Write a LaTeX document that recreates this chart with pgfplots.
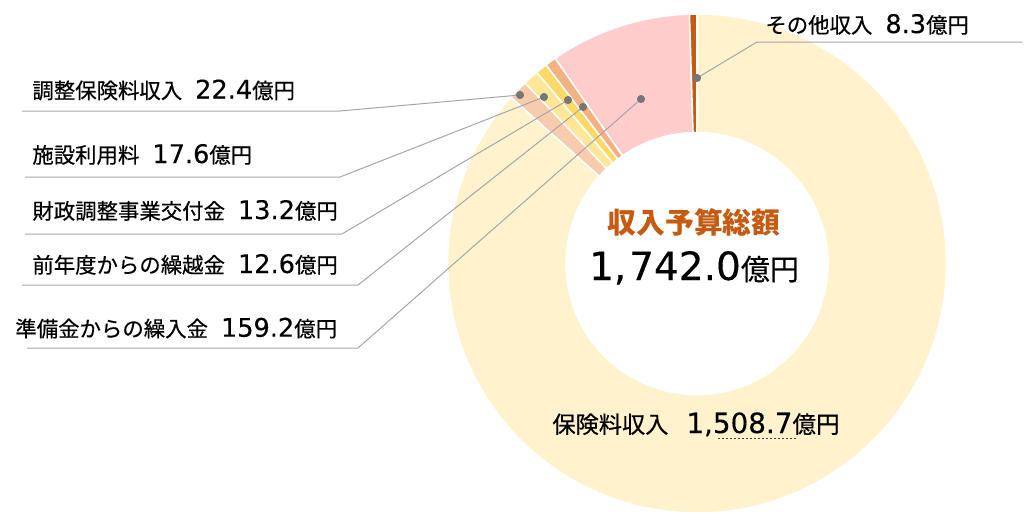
\documentclass[border=0pt]{standalone}
\usepackage{pgfplots}
\pgfplotsset{compat=1.18}
\usepackage{pgfplotstable}
\usepackage{fontspec}
\setmainfont{DejaVu Sans}[FakeBold=0.25]
\newfontfamily\jp{Noto Sans CJK JP}[FakeBold=0.45]
\newfontfamily\jpt{Noto Sans CJK JP}

\definecolor{c0}{HTML}{FFF2CC}
\definecolor{c1}{HTML}{F8CBAD}
\definecolor{c2}{HTML}{FFE699}
\definecolor{c3}{HTML}{FFD966}
\definecolor{c4}{HTML}{F4B183}
\definecolor{c5}{HTML}{FFCCCC}
\definecolor{c6}{HTML}{C55A11}
\definecolor{leader}{HTML}{A6A6A6}
\definecolor{dotc}{HTML}{767676}
\definecolor{titlec}{HTML}{C55A11}

% clockwise from 12 o'clock
\pgfplotstableread{
idx value
0 1508.7
1 22.4
2 17.6
3 13.2
4 12.6
5 159.2
6 8.3
}\piedata

\newcommand\lab[2]{{\jp\fontsize{10.7pt}{12pt}\selectfont #1}\hspace{6.5pt}{\fontsize{12.8pt}{13pt}\selectfont #2}{\jp\fontsize{10.7pt}{12pt}\selectfont 億円}}

\begin{document}
\begin{tikzpicture}
\def\total{0}
\pgfplotsforeachungrouped \i in {0,...,6}{%
  \pgfplotstablegetelem{\i}{value}\of\piedata
  \pgfmathsetmacro\total{\total+\pgfplotsretval}%
}
\begin{axis}[
  hide axis, scale only axis,
  width=512pt, height=257.5pt,
  xmin=0, xmax=1024, ymin=0, ymax=515,
  y dir=reverse, clip=false,
]
\def\cur{90}
\pgfplotsforeachungrouped \i in {0,...,6}{%
  \pgfplotstablegetelem{\i}{value}\of\piedata
  \pgfmathsetmacro\nxt{\cur-(\pgfplotsretval/\total)*360}%
  \edef\temp{\noexpand\fill[c\i, draw=white, line width=0.75pt] (axis cs:697,263.5) ++(\cur:124.75pt) arc[start angle=\cur, end angle=\nxt, radius=124.75pt] -- ++(\nxt:-59.25pt) arc[start angle=\nxt, end angle=\cur, radius=65.5pt] -- cycle;}%
  \temp
  \global\let\cur\nxt
}

% leader lines
\addplot[leader, line width=0.5pt, no marks] coordinates {(22,111) (340,111) (520,95)};
\addplot[leader, line width=0.5pt, no marks] coordinates {(25,177) (340,177) (544,97)};
\addplot[leader, line width=0.5pt, no marks] coordinates {(25,234) (342,234) (568,100)};
\addplot[leader, line width=0.5pt, no marks] coordinates {(22,285) (358,285) (583,107)};
\addplot[leader, line width=0.5pt, no marks] coordinates {(27,348) (358,348) (641,99)};
\addplot[leader, line width=0.5pt, no marks] coordinates {(697,78) (757,42) (1022,42)};
\addplot[only marks, mark=*, mark size=1.8pt, draw=dotc, fill=dotc] coordinates {(520,95) (544,97) (568,100) (583,107) (641,99) (697,78)};

% dashed underline
\addplot[black!75, line width=0.5pt, dash pattern=on 1pt off 1pt, no marks] coordinates {(718,438) (798,438)};

% labels
\node[anchor=base west, inner sep=0pt] at (axis cs:32,98.5) {\lab{調整保険料収入}{22.4}};
\node[anchor=base west, inner sep=0pt] at (axis cs:32,163) {\lab{施設利用料}{17.6}};
\node[anchor=base west, inner sep=0pt] at (axis cs:32,219) {\lab{財政調整事業交付金}{13.2}};
\node[anchor=base west, inner sep=0pt] at (axis cs:32,273) {\lab{前年度からの繰越金}{12.6}};
\node[anchor=base west, inner sep=0pt] at (axis cs:15,336.7) {\lab{準備金からの繰入金}{159.2}};
\node[anchor=base west, inner sep=0pt] at (axis cs:765,33) {\lab{その他収入}{8.3}};
\node[anchor=base west, inner sep=0pt] at (axis cs:552,433) {{\jp\fontsize{11.6pt}{12pt}\selectfont 保険料収入}\hspace{9pt}{\fontsize{13.9pt}{14pt}\selectfont 1,508.7}{\jp\fontsize{11.8pt}{12pt}\selectfont 億円}};

% centre
\node[anchor=base, inner sep=0pt, text=titlec] at (axis cs:694,233) {\jpt\bfseries\fontsize{14.4pt}{15pt}\selectfont 収入予算総額};
\node[anchor=base, inner sep=0pt] at (axis cs:694,280) {{\fontsize{19.5pt}{20pt}\selectfont 1,\hspace{1.5pt}742.0}{\jp\fontsize{14.5pt}{15pt}\selectfont 億円}};
\end{axis}
\path (current axis.south west) rectangle (current axis.north east);
\end{tikzpicture}
\end{document}
